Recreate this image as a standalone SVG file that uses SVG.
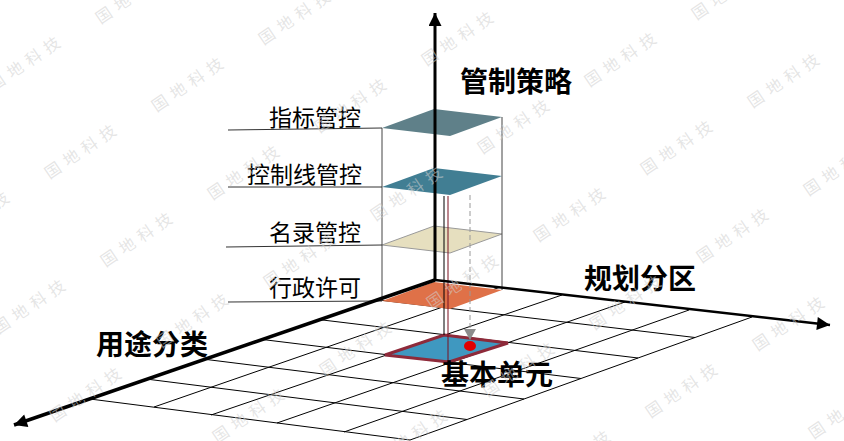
<svg xmlns="http://www.w3.org/2000/svg" width="844" height="441" viewBox="0 0 844 441">
<style>
.grid{stroke:#000;stroke-width:1;fill:none}
.axis{stroke:#000;fill:none}
.lbl{font-family:"Noto Sans CJK SC","Noto Sans",sans-serif;font-size:23px;fill:#000;text-anchor:end}
.big{font-family:"Noto Sans CJK SC","Noto Sans",sans-serif;font-size:28px;font-weight:bold;fill:#000}
.lead{stroke:#333;stroke-width:1;fill:none}
.box{stroke:#444;stroke-width:1;fill:none}
.wm{font-family:"Noto Sans CJK SC",sans-serif;font-size:16px;letter-spacing:6px;fill:#cfcfcf;fill-opacity:0.55;text-anchor:middle;dominant-baseline:central}
</style>
<defs>
<marker id="ah" viewBox="0 0 10 10" refX="10" refY="5" markerWidth="16" markerHeight="13" markerUnits="userSpaceOnUse" orient="auto">
<path d="M0,0 L10,5 L0,10 z" fill="#000"/>
</marker>
</defs>
<rect width="844" height="441" fill="#fff"/>
<g id="grid">
<path class="grid" d="M377.5,299.8 L695,337.5 M320,319.7 L638,358 M262.5,339.5 L581,378.5 M205,359.3 L524,399 M147.5,379.2 L467,419.5 M90,399 L410,440"/>
<path class="grid" d="M499,287.5 L154,407 M562,295 L211,415 M625,302 L277,423 M689,310 L344,432 M752,317 L410,440"/>
</g>
<g id="layer-xingzheng">
<polygon points="434,282 502,290 450,309 382,301" fill="#df7148"/>
</g>
<g id="cell-jiben">
<polygon points="444,335 508,343 449,362 385,355" fill="#3f98c0" stroke="#8e2a3a" stroke-width="3" stroke-linejoin="miter"/>
</g>
<g id="layer-minglu">
<polygon points="434,226 502,234 450,253 382,245" fill="#e6dfbf" stroke="#9a9a9a" stroke-width="1"/>
</g>
<g id="layer-kongzhixian">
<polygon points="434,168 502,176 450,195 382,187" fill="#417e93"/>
</g>
<g id="layer-zhibiao">
<polygon points="434,109 502,117 450,136 382,128" fill="#5f8089"/>
</g>
<g id="connectors">
<path class="box" d="M382,128 L382,301 M502,117 L502,290"/>
<path class="lead" d="M228,130 L382,128 M228,187 L382,187 M226,247 L382,245 M228,302 L382,301"/>
<line x1="444" y1="196" x2="444" y2="335" stroke="#000" stroke-width="1"/>
<line x1="448" y1="196" x2="448" y2="362" stroke="#7a1020" stroke-width="1"/>
<line x1="470" y1="195" x2="470" y2="330" stroke="#999" stroke-width="1" stroke-dasharray="5,3"/>
<polygon points="464,329 476,329 470,340" fill="#8c8c8c"/>
<line class="axis" x1="435" y1="280" x2="435" y2="13" stroke-width="3" marker-end="url(#ah)"/>
<line class="axis" x1="435" y1="280" x2="830" y2="325" stroke-width="2.5" marker-end="url(#ah)"/>
<line class="axis" x1="435" y1="280" x2="14" y2="425" stroke-width="3.5" marker-end="url(#ah)"/>
</g>
<g id="point">
<ellipse cx="470" cy="346" rx="6" ry="5" fill="#e00000"/>
</g>
<g id="labels">
<text class="lbl" x="361" y="126">指标管控</text>
<text class="lbl" x="362" y="183">控制线管控</text>
<text class="lbl" x="361" y="241">名录管控</text>
<text class="lbl" x="361" y="296">行政许可</text>
<text class="big" x="460" y="92">管制策略</text>
<text class="big" x="584" y="289">规划分区</text>
<text class="big" x="96" y="355">用途分类</text>
<text class="big" x="441" y="385">基本单元</text>
</g>
<g id="watermark">
<text class="wm" transform="translate(729,-10) rotate(-34)">国地科技</text>
<text class="wm" transform="translate(133,-6) rotate(-34)">国地科技</text>
<text class="wm" transform="translate(296,15) rotate(-34)">国地科技</text>
<text class="wm" transform="translate(459,36) rotate(-34)">国地科技</text>
<text class="wm" transform="translate(622,57) rotate(-34)">国地科技</text>
<text class="wm" transform="translate(785,78) rotate(-34)">国地科技</text>
<text class="wm" transform="translate(26,61) rotate(-34)">国地科技</text>
<text class="wm" transform="translate(189,82) rotate(-34)">国地科技</text>
<text class="wm" transform="translate(352,103) rotate(-34)">国地科技</text>
<text class="wm" transform="translate(515,124) rotate(-34)">国地科技</text>
<text class="wm" transform="translate(678,145) rotate(-34)">国地科技</text>
<text class="wm" transform="translate(841,166) rotate(-34)">国地科技</text>
<text class="wm" transform="translate(82,149) rotate(-34)">国地科技</text>
<text class="wm" transform="translate(245,170) rotate(-34)">国地科技</text>
<text class="wm" transform="translate(408,191) rotate(-34)">国地科技</text>
<text class="wm" transform="translate(571,212) rotate(-34)">国地科技</text>
<text class="wm" transform="translate(734,233) rotate(-34)">国地科技</text>
<text class="wm" transform="translate(-25,216) rotate(-34)">国地科技</text>
<text class="wm" transform="translate(138,237) rotate(-34)">国地科技</text>
<text class="wm" transform="translate(301,258) rotate(-34)">国地科技</text>
<text class="wm" transform="translate(464,279) rotate(-34)">国地科技</text>
<text class="wm" transform="translate(627,300) rotate(-34)">国地科技</text>
<text class="wm" transform="translate(790,321) rotate(-34)">国地科技</text>
<text class="wm" transform="translate(31,304) rotate(-34)">国地科技</text>
<text class="wm" transform="translate(194,318) rotate(-34)">国地科技</text>
<text class="wm" transform="translate(357,346) rotate(-34)">国地科技</text>
<text class="wm" transform="translate(520,367) rotate(-34)">国地科技</text>
<text class="wm" transform="translate(683,388) rotate(-34)">国地科技</text>
<text class="wm" transform="translate(846,409) rotate(-34)">国地科技</text>
<text class="wm" transform="translate(87,392) rotate(-34)">国地科技</text>
<text class="wm" transform="translate(250,413) rotate(-34)">国地科技</text>
<text class="wm" transform="translate(413,434) rotate(-34)">国地科技</text>
<text class="wm" transform="translate(576,455) rotate(-34)">国地科技</text>
</g>
</svg>
